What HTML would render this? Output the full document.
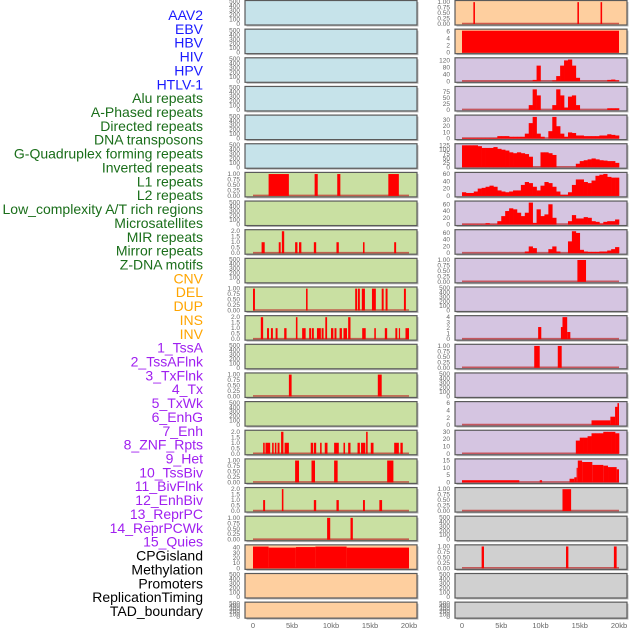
<!DOCTYPE html>
<html><head><meta charset="utf-8"><style>
html,body{margin:0;padding:0;background:#fff;}
svg{display:block;font-family:"Liberation Sans",sans-serif;}
</style></head><body>
<svg id="chart" width="630" height="630" viewBox="0 0 630 630" xmlns="http://www.w3.org/2000/svg"></svg>
<script>
// ---- track labels ----
const labels = ["AAV2","EBV","HBV","HIV","HPV","HTLV-1","Alu repeats","A-Phased repeats","Directed repeats","DNA transposons","G-Quadruplex forming repeats","Inverted repeats","L1 repeats","L2 repeats","Low_complexity A/T rich regions","Microsatellites","MIR repeats","Mirror repeats","Z-DNA motifs","CNV","DEL","DUP","INS","INV","1_TssA","2_TssAFlnk","3_TxFlnk","4_Tx","5_TxWk","6_EnhG","7_Enh","8_ZNF_Rpts","9_Het","10_TssBiv","11_BivFlnk","12_EnhBiv","13_ReprPC","14_ReprPCWk","15_Quies","CPGisland","Methylation","Promoters","ReplicationTiming","TAD_boundary"];
const labelGroups = ["v","v","v","v","v","v","r","r","r","r","r","r","r","r","r","r","r","r","r","s","s","s","s","s","c","c","c","c","c","c","c","c","c","c","c","c","c","c","c","k","k","k","k","k"];
const xTicks = [0,5,10,15,20];
const xTickLabels = ["0","5kb","10kb","15kb","20kb"];

// ---- right column histograms (0.5kb bins) ----
const hivBins = [1,1,1,1,1,1,1,1,1,1,1,1,1,1,1,1,1,1,8,90,0,0,0,5,30,90,120,125,90,20,0,0,0,0,0,0,0,8,10,5];
const hpvBins = [0,0,0,0,0,0,0,0,0,0,0,0,0,0,0,0,0,20,85,60,0,0,0,20,85,60,10,55,60,20,0,0,0,0,0,0,0,7,7,7];
const aluBins = [1,1,1,1,1,1,1,1,1,4,4,4,3,3,3,3,8,25,35,8,3,0,12,35,20,8,3,10,9,5,5,4,4,4,4,5,5,7,6,5];
const gquadBins = [125,125,125,125,120,110,110,110,115,105,100,95,85,80,85,80,75,60,0,0,85,85,80,70,0,0,0,0,0,20,35,40,45,50,45,40,38,35,35,25];
const l1RightBins = [10,8,8,12,20,22,25,28,25,15,12,10,12,15,15,30,38,35,25,15,28,38,35,25,12,3,3,10,30,45,45,38,35,42,55,58,60,52,50,50];
const lowCompBins = [1,1,1,1,1,1,4,1,1,10,25,40,48,45,35,25,35,65,5,45,25,30,60,20,0,0,0,10,28,18,18,22,20,10,8,3,8,10,10,15];
const microBins = [0,0,0,0,0,0,0,0,0,0,0,0,0,0,0,0,5,20,15,0,0,0,12,20,5,0,0,35,65,60,10,5,4,4,4,5,5,8,12,18];
const enhRightBins = [0,0,0,0,0,0,0,0,0,0,0,0,0,0,0,0,0,0,0,0,0,0,0,0,0,0,0,0,0,18,22,22,24,28,28,28,30,30,30,28];

// ---- interval tracks [startKb, endKb, value] ----
const aav2Right = [[1.45,1.65,1],[14.7,14.9,1],[17.65,17.85,1]];
const ebvRight = [[0,20,6.2]];
const mirrorRight = [[14.7,15.8,1]];
const insRight = [[9.7,10.1,2.2],[12.6,12.8,2.2],[12.8,13.4,4],[13.4,13.8,1.3]];
const tssaRight = [[9.2,9.9,1],[12.2,12.7,1]];
const txwkRight = [[16.5,18.9,1.3],[18.9,19.5,2.3],[19.5,19.8,5],[19.8,20,6]];
const hetRight = [[0,7.3,1.5],[9.9,10.2,1.5],[13.7,14.3,2.5],[14.3,14.6,3.5],[14.6,14.75,10],[14.75,15.3,15],[15.3,16.6,14],[16.6,18.0,12],[18.0,18.6,11.5],[18.6,19.7,10.5],[19.7,20,9]];
const bivflnkRight = [[12.8,13.9,1]];
const cpgRight = [[2.5,2.8,1],[13.25,13.55,1],[19.35,19.7,1]];
const l1Left = [[2.0,4.6,1],[7.9,8.3,1],[10.8,11.2,1],[17.35,18.7,1]];
const mirLeft = [[1.1,1.5,1],[3.3,3.55,1],[3.7,4.0,2],[5.4,5.7,1],[5.9,6.2,1],[7.8,8.1,1],[10.7,11.0,1],[14.1,14.3,1],[18.1,18.35,1]];
const delLeft = [[0,0.25,1],[6.8,7.0,1],[13.1,13.35,1],[13.45,13.7,1],[13.95,14.35,1],[15.25,15.75,1],[16.5,16.75,1],[17.0,17.25,1],[19.35,19.6,1]];
const insLeft = [[1.0,1.3,2],[1.8,2.05,1],[2.3,2.55,1],[2.9,3.15,1],[4.0,4.3,1],[5.5,5.7,2],[6.3,6.75,1],[7.2,7.45,1],[7.55,7.8,1],[8.2,8.7,1],[8.8,9.05,1],[9.27,9.5,2],[10.0,10.3,1],[10.45,10.7,1],[11.1,11.4,1],[11.6,12.05,1],[12.2,12.5,2],[14.0,14.45,1],[15.55,15.75,1],[16.9,17.2,1],[18.25,18.5,1],[18.7,18.85,1],[19.55,20.0,1]];
const tssaflnkLeft = [[4.6,4.95,1],[16.0,16.5,1]];
const enhLeft = [[1.3,1.5,1],[1.6,2.2,1],[2.45,2.65,1],[2.8,3.0,1],[3.15,3.4,1],[3.6,3.9,2],[4.05,4.6,1],[7.4,7.7,1],[7.8,8.1,1],[8.6,8.8,1],[9.2,9.55,1],[10.4,11.0,1],[11.6,11.8,1],[12.2,12.5,1],[13.4,13.7,1],[13.85,14.4,1],[14.5,14.7,2],[15.1,15.45,1],[18.1,18.7,1],[18.9,19.2,1]];
const znfLeft = [[5.4,5.9,1],[7.5,7.95,1],[10.4,10.85,1],[17.2,18.0,1]];
const hetLeft = [[1.3,1.55,1],[3.7,3.9,2],[7.8,8.1,1],[10.7,11.0,1],[14.1,14.35,1],[16.2,16.55,1]];
const tssbivLeft = [[9.5,9.9,1],[12.5,12.8,1]];
const cpgLeft = [[0,2,42],[2,5.5,40],[5.5,8,41],[8,12,42],[12,20,40]];

const BLUE="#c6e3ea",GREEN="#c9e0a2",ORANGE="#fecf9f",PURPLE="#d5c5e1",GRAY="#d0d0d0";
const T_EMPTY=[[0,"0"],[100,"100"],[200,"200"],[300,"300"],[400,"400"],[500,"500"]];
const T_ONE=[[0,"0.00"],[0.25,"0.25"],[0.5,"0.50"],[0.75,"0.75"],[1,"1.00"]];
const T_TWO=[[0,"0.0"],[0.5,"0.5"],[1,"1.0"],[1.5,"1.5"],[2,"2.0"]];
function emptyP(bg){return {bg:bg,ymax:500,ticks:T_EMPTY,empty:true};}

const leftPanels = [
 emptyP(BLUE),emptyP(BLUE),emptyP(BLUE),emptyP(BLUE),emptyP(BLUE),emptyP(BLUE),
 {bg:GREEN,ymax:1.02,ticks:T_ONE,bars:l1Left},
 emptyP(GREEN),
 {bg:GREEN,ymax:2.03,ticks:T_TWO,bars:mirLeft},
 emptyP(GREEN),
 {bg:GREEN,ymax:1.02,ticks:T_ONE,bars:delLeft},
 {bg:GREEN,ymax:2.03,ticks:T_TWO,bars:insLeft},
 emptyP(GREEN),
 {bg:GREEN,ymax:1.02,ticks:T_ONE,bars:tssaflnkLeft},
 emptyP(GREEN),
 {bg:GREEN,ymax:2.03,ticks:T_TWO,bars:enhLeft},
 {bg:GREEN,ymax:1.02,ticks:T_ONE,bars:znfLeft},
 {bg:GREEN,ymax:2.03,ticks:T_TWO,bars:hetLeft},
 {bg:GREEN,ymax:1.02,ticks:T_ONE,bars:tssbivLeft},
 {bg:ORANGE,ymax:43,ticks:[[0,"0"],[10,"10"],[20,"20"],[30,"30"],[40,"40"]],bars:cpgLeft},
 emptyP(ORANGE),emptyP(ORANGE)
];
const rightPanels = [
 {bg:ORANGE,ymax:1.02,ticks:T_ONE,bars:aav2Right},
 {bg:ORANGE,ymax:6.3,ticks:[[0,"0"],[2,"2"],[4,"4"],[6,"6"]],bars:ebvRight},
 {bg:PURPLE,ymax:128,ticks:[[0,"0"],[40,"40"],[80,"80"],[120,"120"]],bins:hivBins},
 {bg:PURPLE,ymax:92,ticks:[[0,"0"],[25,"25"],[50,"50"],[75,"75"]],bins:hpvBins},
 {bg:PURPLE,ymax:36,ticks:[[0,"0"],[10,"10"],[20,"20"],[30,"30"]],bins:aluBins},
 {bg:PURPLE,ymax:127,ticks:[[0,"0"],[25,"25"],[50,"50"],[75,"75"],[100,"100"],[125,"125"]],bins:gquadBins},
 {bg:PURPLE,ymax:61,ticks:[[0,"0"],[20,"20"],[40,"40"],[60,"60"]],bins:l1RightBins},
 {bg:PURPLE,ymax:66,ticks:[[0,"0"],[20,"20"],[40,"40"],[60,"60"]],bins:lowCompBins},
 {bg:PURPLE,ymax:66,ticks:[[0,"0"],[20,"20"],[40,"40"],[60,"60"]],bins:microBins},
 {bg:PURPLE,ymax:1.02,ticks:T_ONE,bars:mirrorRight},
 emptyP(PURPLE),
 {bg:PURPLE,ymax:4.05,ticks:[[0,"0"],[1,"1"],[2,"2"],[3,"3"],[4,"4"]],bars:insRight},
 {bg:PURPLE,ymax:1.02,ticks:T_ONE,bars:tssaRight},
 emptyP(PURPLE),
 {bg:PURPLE,ymax:6.1,ticks:[[0,"0"],[2,"2"],[4,"4"],[6,"6"]],bars:txwkRight},
 {bg:PURPLE,ymax:30.5,ticks:[[0,"0"],[10,"10"],[20,"20"],[30,"30"]],bins:enhRightBins},
 {bg:PURPLE,ymax:15.3,ticks:[[0,"0"],[5,"5"],[10,"10"],[15,"15"]],bars:hetRight},
 {bg:GRAY,ymax:1.02,ticks:T_ONE,bars:bivflnkRight},
 emptyP(GRAY),
 {bg:GRAY,ymax:1.02,ticks:T_ONE,bars:cpgRight},
 emptyP(GRAY),emptyP(GRAY)
];

const NS="http://www.w3.org/2000/svg";
const svg=document.getElementById("chart");
function mk(tag,attrs,parent){const e=document.createElementNS(NS,tag);for(const k in attrs)e.setAttribute(k,attrs[k]);(parent||svg).appendChild(e);return e;}

// labels
const labelColors={v:"#1a1aff",r:"#1a6e1a",s:"#ffa500",c:"#a020f0",k:"#000"};
labels.forEach((t,i)=>{
  const el=mk("text",{x:203,y:15+i*13.86+5,"text-anchor":"end","font-size":"14",fill:labelColors[labelGroups[i]]});
  
  
  el.textContent=t;
});

const cols=[{x0:245,x1:417,d0:253,d1:409,panels:leftPanels,tickX:240,name:"left"},{x0:455,x1:627,d0:462,d1:619,panels:rightPanels,tickX:450,name:"right"}];
cols.forEach(col=>{
  const xs=kb=>col.d0+kb/20*(col.d1-col.d0);
  col.panels.forEach((p,i)=>{
    const top=0.5+i*28.65, h=(i===21?16:24.5);
    const g=mk("g",{});
    
    
    mk("rect",{x:col.x0+1.5,y:top+1.5,width:col.x1-col.x0,height:h,fill:"#bbb"},g);
    mk("rect",{x:col.x0,y:top,width:col.x1-col.x0,height:h,fill:p.bg},g);
    const yb=top+h-1, yt=top+1.2;
    const ys=v=>yb-v/p.ymax*(yb-yt);
    // ticks
    p.ticks.forEach(tk=>{
      const tl=mk("text",{x:col.tickX,y:ys(tk[0])+2,"text-anchor":"end","font-size":"6.5",fill:"#666"},g);
      
      
      tl.textContent=tk[1];
    });
    if(!p.empty){
      mk("line",{x1:xs(0),x2:xs(20),y1:yb-0.5,y2:yb-0.5,stroke:"rgba(190,40,40,0.7)","stroke-width":1.6},g);
    }
    if(p.bins){
      p.bins.forEach((v,k)=>{
        if(v<=0)return;
        const r=mk("rect",{x:xs(k*0.5),y:ys(v),width:xs(k*0.5+0.5)-xs(k*0.5)+0.3,height:yb-ys(v),fill:"#ff0000"},g);
        
        
      });
    }
    if(p.bars){
      p.bars.forEach(b=>{
        const r=mk("rect",{x:xs(b[0]),y:ys(b[2]),width:Math.max(1.2,xs(b[1])-xs(b[0])),height:yb-ys(b[2]),fill:"#ff0000"},g);
        
        
      });
    }
    mk("rect",{x:col.x0,y:top,width:col.x1-col.x0,height:h,fill:"none",stroke:"#5a5a5a","stroke-width":1.2},g);
  });
  xTicks.forEach((t,j)=>{
    const tl=mk("text",{x:xs(t),y:628,"text-anchor":"middle","font-size":"7.5",fill:"#666"});
    
    
    tl.textContent=xTickLabels[j];
  });
});
</script>
</body></html>
